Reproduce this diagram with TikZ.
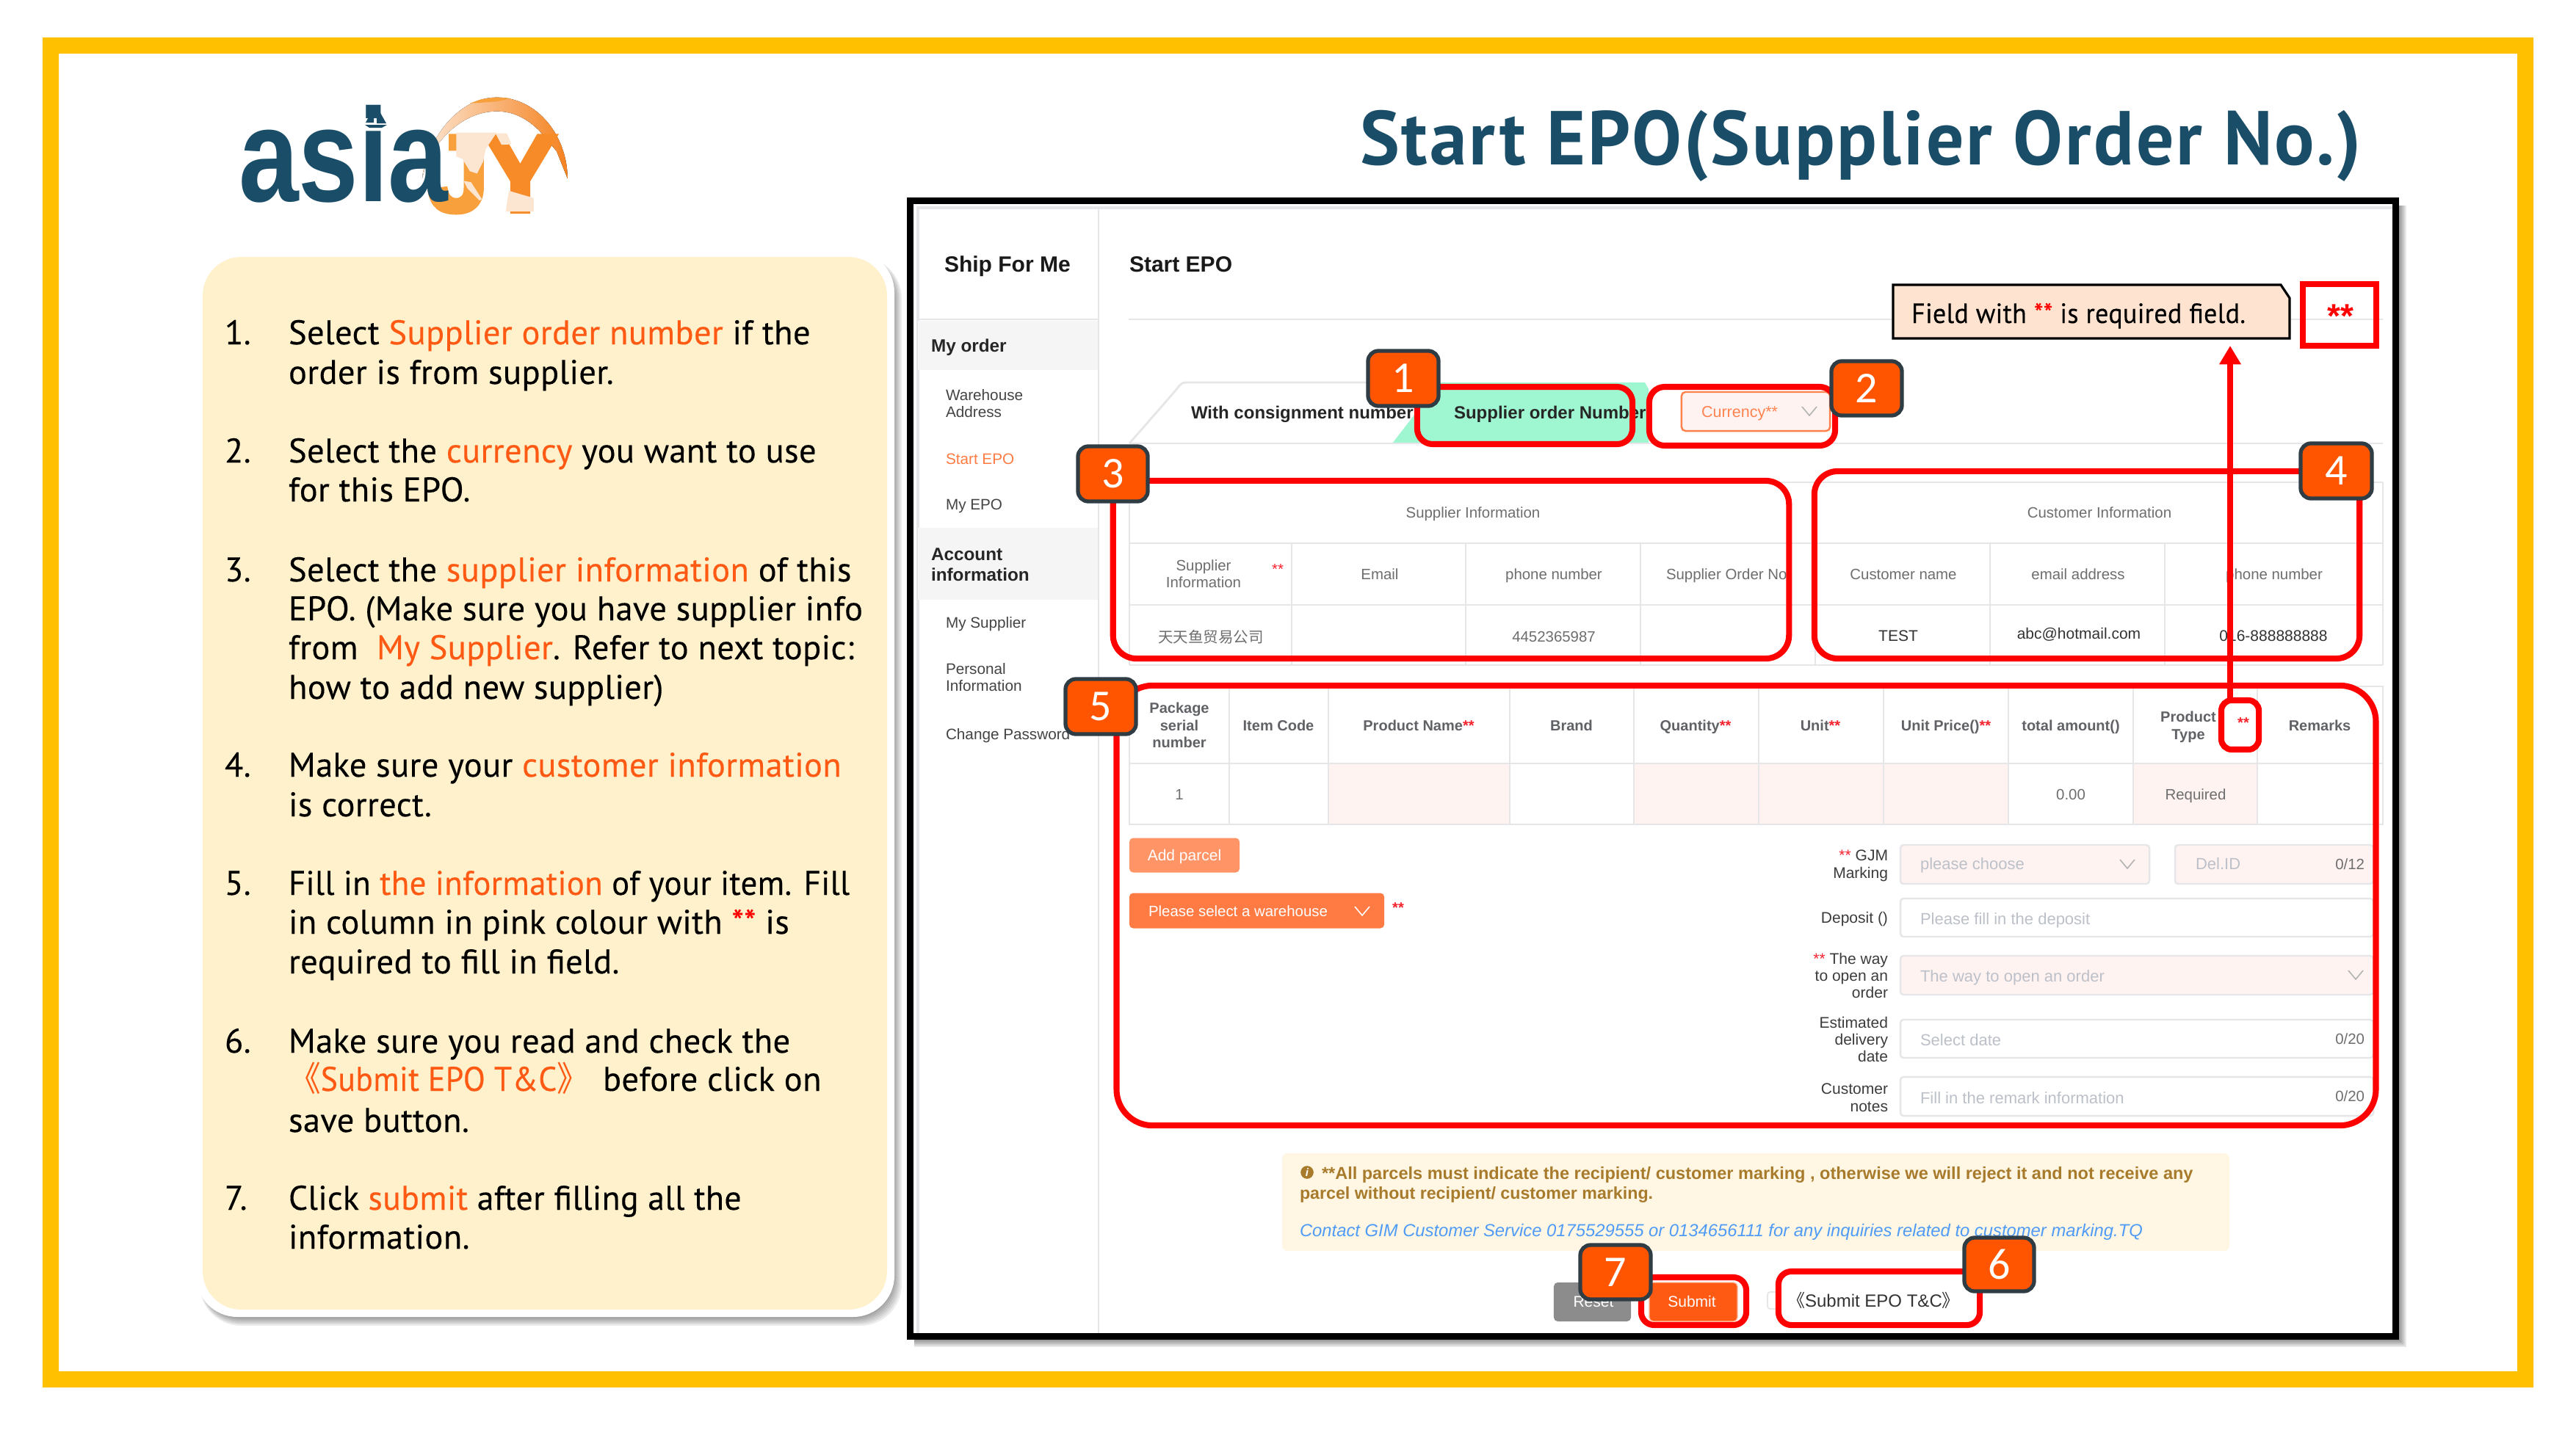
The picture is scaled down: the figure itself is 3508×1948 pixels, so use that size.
\documentclass[tikz,border=0pt]{standalone}
\usepackage{fontspec}
\usetikzlibrary{arrows.meta}
\setmainfont{PT Sans}
\newfontfamily\ui{Liberation Sans}
\newfontfamily\logoj[FakeBold=4]{Liberation Sans}
\newfontfamily\cjk{Noto Sans CJK SC}
\newfontfamily\badgefont{Carlito}
\newfontfamily\bodyfont[LetterSpace=0.8,FakeBold=0.25]{PT Sans}
\newfontfamily\titlefont[LetterSpace=3]{PT Sans}
\definecolor{frameY}{HTML}{FFC000}
\definecolor{navy}{HTML}{1A4E68}
\definecolor{cream}{HTML}{FFF1CC}
\definecolor{om}{HTML}{FF5A14}
\definecolor{req}{HTML}{F5222D}
\definecolor{gridc}{HTML}{E6E6E8}
\definecolor{pinkc}{HTML}{FFF3F2}
\definecolor{badge}{HTML}{FF5500}
\definecolor{badgeb}{HTML}{2F3C44}
\definecolor{redl}{HTML}{FF0000}
\definecolor{cellc}{HTML}{6E6E6E}
\definecolor{headc}{HTML}{606266}
\definecolor{phc}{HTML}{BCC0C8}
\definecolor{labc}{HTML}{3C3C3C}
\definecolor{sidec}{HTML}{444444}
\definecolor{brownc}{HTML}{A87B2C}
\definecolor{bluec}{HTML}{4F9BF5}
\definecolor{mint}{HTML}{9FF7D1}
\definecolor{palec}{HTML}{FCE6D2}
\definecolor{logoo}{HTML}{F8A03C}
\definecolor{logor}{HTML}{F58220}
\newcommand\px[1]{\fontsize{\fpeval{#1*0.28453}pt}{\fpeval{#1*0.34}pt}\selectfont}
\newcommand\om[1]{\textcolor{om}{#1}}
\newcommand\rqd[1]{\textcolor{req}{#1}}
\newcounter{tn}
\newcommand\TL[4]{\stepcounter{tn}\node[txt,anchor=base west,#3] (t\arabic{tn}) at (#1,#2+2) {#4};}
\newcommand\TC[4]{\stepcounter{tn}\node[txt,anchor=base,#3] (t\arabic{tn}) at (#1,#2+2) {#4};}
\newcommand\TR[4]{\stepcounter{tn}\node[txt,anchor=base east,#3] (t\arabic{tn}) at (#1,#2+2) {#4};}
\newcommand\Chev[3]{\draw[#3,line width=.45pt] (#1-10,#2-6) -- (#1,#2+6) -- (#1+10,#2-6);}
\newcommand\RB[6]{\node[redbox,rounded corners=#6,minimum width={(#4-#2)*0.28453pt},minimum height={(#5-#3)*0.28453pt}] (#1) at ({(#2+#4)/2},{(#3+#5)/2}) {};}
\newcommand\BD[6]{\node[badgebox,minimum width={(#4-#2)*0.28453pt},minimum height={(#5-#3)*0.28453pt}] (#1) at ({(#2+#4)/2},{(#3+#5)/2}) {#6};}
\tikzset{
 txt/.style={inner sep=0pt,outer sep=0pt},
 body/.style={font=\bodyfont\px{46.5},text=black},
 side/.style={font=\ui\px{20.7},text=sidec},
 sideb/.style={font=\ui\bfseries\px{24.3},text=black!85},
 head/.style={font=\ui\bfseries\px{20},text=headc},
 cell/.style={font=\ui\px{20.4},text=cellc},
 dark/.style={font=\ui\px{21},text=black!80},
 ph/.style={font=\ui\px{22},text=phc},
 lab/.style={font=\ui\px{21},text=labc},
 tabt/.style={font=\ui\bfseries\px{24},text=black!85},
 grid/.style={draw=gridc,line width=.6pt},
 fld/.style={draw=gridc,line width=.7pt,rounded corners=1.2pt},
 redbox/.style={draw=redl,line width=2.3pt,inner sep=0pt,outer sep=0pt,fill=none},
 badgebox/.style={fill=badge,draw=badgeb,line width=1.5pt,rounded corners=4pt,inner sep=0pt,outer sep=0pt,text=white,font=\badgefont\px{60}},
}
\begin{document}
\begin{tikzpicture}[x=0.01cm,y=-0.01cm]
\useasboundingbox (0,0) rectangle (3508,1948);
\fill[white] (0,0) rectangle (3508,1948);
% yellow frame
\fill[frameY,even odd rule] (58,51) rectangle (3450,1890) (80,73) rectangle (3428,1868);
% logo (coordinates: 3 units per pixel, origin 480,120)
\begin{scope}[shift={(480,120)},x=0.003333cm,y=-0.003333cm]
\fill[left color=palec,middle color=palec!60!logor,right color=logor] (285,370) .. controls (300,230) and (420,38) .. (590,38) .. controls (760,38) and (880,200) .. (880,370) -- (835,258) -- (765,175) .. controls (700,110) and (640,95) .. (590,95) .. controls (450,95) and (320,220) .. (285,370) -- cycle;
\fill[logoo] (480,62) -- (530,45) -- (590,38) -- (650,42) -- (590,55) -- (520,60) -- cycle;
\TL{310}{503}{font=\logoj\bfseries\px{149},text=logoo}{J}
\TL{537}{503}{font=\logoj\bfseries\px{149},text=logor!70!logoo}{Y}
\fill[palec] (425,182) -- (590,182) -- (545,250) -- (535,300) -- (510,350) -- (480,340) -- (450,290) -- (425,280) -- cycle;
\fill[palec] (585,185) -- (632,185) -- (650,230) -- (610,232) -- cycle;
\fill[palec] (640,420) -- (700,438) -- (742,450) -- (742,505) -- (627,505) -- (632,470) -- cycle;
\fill[palec] (455,380) -- (485,385) -- (530,455) -- (520,460) -- (470,410) -- cycle;
\end{scope}
\TL{325}{272}{font=\ui\bfseries\px{181},text=navy,xscale=.81}{asia}
\fill[navy] (509,146) -- (509,167) -- (498,167) -- cycle (513,145) -- (526,168) -- (513,168) -- cycle (497,170) -- (527,170) -- (520,174) -- (503,174) -- cycle;
% title
\TL{1852}{222}{font=\titlefont\bfseries\px{104},text=navy,xscale=.975}{Start EPO(Supplier Order No.)}
% panel
\foreach \s in {0,2,...,12}{\fill[black,opacity=.07,rounded corners=16pt] (272,350) rectangle (1216+\s,1794+\s);}
\fill[white,rounded corners=16pt] (267,342) rectangle (1218,1794);
\fill[cream,rounded corners=15pt] (276,350) rectangle (1208,1784);
% list
\TL{306}{467}{body}{1.}\TL{393}{467}{body}{Select \om{Supplier order number} if the}
\TL{393}{521}{body}{order is from supplier.}
\TL{306}{628}{body}{2.}\TL{393}{628}{body}{Select the \om{currency} you want to use}
\TL{393}{681}{body}{for this EPO.}
\TL{306}{790}{body}{3.}\TL{393}{790}{body}{Select the \om{supplier information} of this}
\TL{393}{843}{body}{EPO. (Make sure you have supplier info}
\TL{393}{896}{body}{from\ \ \om{My Supplier}. Refer to next topic:}
\TL{393}{950}{body}{how to add new supplier)}
\TL{306}{1056}{body}{4.}\TL{393}{1056}{body}{Make sure your \om{customer information}}
\TL{393}{1110}{body}{is correct.}
\TL{306}{1217}{body}{5.}\TL{393}{1217}{body,xscale=.965}{Fill in \om{the information} of your item. Fill}
\TL{393}{1270}{body}{in column in pink colour with \textcolor{red}{**} is}
\TL{393}{1324}{body}{required to fill in field.}
\TL{306}{1432}{body}{6.}\TL{393}{1432}{body}{Make sure you read and check the}
\TL{393}{1484}{body,xscale=.94}{\om{{\cjk 《}Submit EPO T\&C{\cjk 》}}}
\TL{821}{1484}{body}{before click on}
\TL{393}{1540}{body}{save button.}
\TL{306}{1646}{body}{7.}\TL{393}{1646}{body,xscale=.985}{Click \om{submit} after filling all the}
\TL{393}{1699}{body}{information.}
% screenshot frame
\foreach \s in {0,2,...,10}{\fill[black,opacity=.09] (1245,280) rectangle (3267+\s,1825+\s);}
\fill[black] (1235,269) rectangle (3267,1825);
\fill[white] (1244,278) rectangle (3258,1816);
\draw[grid,line width=.9pt] (1250,1816) -- (1250,283) -- (3258,283);
\fill[black!4] (1250,437) rectangle (1496,504);
\fill[black!4] (1250,719) rectangle (1496,817);
\draw[grid] (1496,283) -- (1496,1816);
\draw[grid] (1250,435) -- (1496,435) (1537,435) -- (3245,435);
% sidebar
\TL{1286}{368}{font=\ui\bfseries\px{30},text=black!90}{Ship For Me}
\TL{1538}{368}{font=\ui\bfseries\px{30},text=black!90}{Start EPO}
\TL{1268}{477}{sideb}{My order}
\TL{1288}{543}{side}{Warehouse}
\TL{1288}{566}{side}{Address}
\TL{1288}{630}{side,text=om!80}{Start EPO}
\TL{1288}{692}{side}{My EPO}
\TL{1268}{761}{sideb}{Account}
\TL{1268}{789}{sideb}{information}
\TL{1288}{853}{side}{My Supplier}
\TL{1288}{916}{side}{Personal}
\TL{1288}{939}{side}{Information}
\TL{1288}{1005}{side}{Change Password}
% tabs
\draw[grid,line width=.8pt] (1538,604) -- (1600,533) to[out=50,in=180] (1615,521) -- (1900,521);
\fill[mint] (1896,604) -- (1930,560) -- (1930,521) -- (2240,521) -- (2245,530) -- (2245,604) -- cycle;
\draw[grid,line width=.8pt] (1538,604) -- (3245,604);
\TL{1622}{568}{tabt}{With consignment number}
\TL{1980}{568}{tabt}{Supplier order Number}
\node[draw=orange!60!red!70,fill=pinkc,line width=.7pt,rounded corners=1.5pt,minimum width={202*0.28453pt},minimum height={53*0.28453pt},inner sep=0pt] (cur) at (2391,560.5) {};
\TL{2317}{566}{font=\ui\px{21.5},text=om!75}{Currency**}
\Chev{2464}{560}{draw=black!30}
% note
\path[fill=red!20!orange!18!white,draw=black,line width=.9pt] (2578,388) -- (3106,388) -- (3118,406) -- (3118,461) -- (2578,461) -- cycle;
\TL{2603}{438}{font=\bodyfont\px{38},xscale=.95}{Field with \textcolor{red}{**} is required field.}
\TC{3187}{444}{font=\ui\bfseries\px{46},text=redl}{**}
% supplier + customer tables
\draw[grid] (1538,657) -- (3245,657) (1538,740) -- (3245,740) (1538,824) -- (3245,824) (1538,906) -- (3245,906);
\draw[grid] (1538,657) -- (1538,906) (1759,740) -- (1759,906) (1996,740) -- (1996,906) (2234,740) -- (2234,906) (2472,657) -- (2472,906) (2710,740) -- (2710,906) (2948,740) -- (2948,906) (3245,657) -- (3245,906);
\TC{2006}{703}{cell}{Supplier Information}
\TC{1639}{775}{cell}{Supplier}
\TC{1639}{798}{cell}{Information}
\TC{1740}{780}{cell,text=req}{**}
\TC{1879}{787}{cell}{Email}
\TC{2116}{787}{cell}{phone number}
\TL{2269}{787}{cell}{Supplier Order No}
\TL{1577}{873}{font=\cjk\px{20.5},text=cellc}{天天鱼贸易公司}
\TC{2116}{872}{cell}{4452365987}
\TC{2859}{703}{cell}{Customer Information}
\TC{2592}{787}{cell}{Customer name}
\TC{2830}{787}{cell}{email address}
\TC{3097}{787}{cell}{phone number}
\TC{2585}{871}{dark}{TEST}
\TC{2831}{868}{dark}{abc@hotmail.com}
\TC{3096}{871}{dark}{016-888888888}
% item table
\fill[pinkc] (1809,1040) rectangle (2056,1123) (2225,1040) rectangle (2735,1123) (2905,1040) rectangle (3074,1123);
\draw[grid] (1538,935) rectangle (3245,1123) (1538,1040) -- (3245,1040);
\foreach \c in {1674,1809,2056,2225,2395,2565,2735,2905,3074}{\draw[grid] (\c,935) -- (\c,1123);}
\TC{1606}{969}{head}{Package}
\TC{1606}{993}{head}{serial}
\TC{1606}{1016}{head}{number}
\TC{1741}{993}{head}{Item Code}
\TC{1932}{993}{head}{Product Name\rqd{**}}
\TC{2140}{993}{head}{Brand}
\TC{2309}{993}{head}{Quantity\rqd{**}}
\TC{2479}{993}{head}{Unit\rqd{**}}
\TC{2650}{993}{head}{Unit Price()\rqd{**}}
\TC{2820}{993}{head}{total amount()}
\TC{2980}{981}{head}{Product}
\TC{2980}{1005}{head}{Type}
\TC{3055}{989}{head,text=req}{**}
\TC{3159}{993}{head}{Remarks}
\TC{1606}{1087}{cell}{1}
\TC{2820}{1087}{cell}{0.00}
\TC{2990}{1087}{cell}{Required}
% buttons
\node[fill=om!65,rounded corners=1.5pt,minimum width={150*0.28453pt},minimum height={47*0.28453pt},inner sep=0pt] (addp) at (1613,1165) {};
\TC{1613}{1170}{font=\ui\px{21},text=white}{Add parcel}
\node[fill=om!80,rounded corners=1.5pt,minimum width={347*0.28453pt},minimum height={48*0.28453pt},inner sep=0pt] (wh) at (1711.5,1240.5) {};
\TL{1564}{1246}{font=\ui\px{20.4},text=white}{Please select a warehouse}
\Chev{1855}{1241}{draw=white}
\TC{1904}{1241}{head,text=req}{**}
% form
\draw[fld,fill=pinkc] (2588,1151) rectangle (2927,1204);
\draw[fld,fill=pinkc] (2962,1151) rectangle (3232,1204);
\draw[fld] (2588,1224) rectangle (3232,1276);
\draw[fld,fill=pinkc] (2588,1302) rectangle (3232,1355);
\draw[fld] (2588,1389) rectangle (3232,1441);
\draw[fld] (2588,1467) rectangle (3232,1520);
\TL{2615}{1182}{ph}{please choose}
\Chev{2897}{1177}{draw=black!30}
\TL{2990}{1182}{ph}{Del.ID}
\TR{3220}{1182}{cell}{0/12}
\TL{2615}{1257}{ph}{Please fill in the deposit}
\TL{2615}{1335}{ph}{The way to open an order}
\Chev{3208}{1328}{draw=black!30}
\TL{2615}{1422}{ph}{Select date}
\TR{3220}{1420}{cell}{0/20}
\TL{2615}{1501}{ph}{Fill in the remark information}
\TR{3220}{1498}{cell}{0/20}
\TR{2571}{1170}{lab}{\rqd{**} GJM}
\TR{2571}{1194}{lab}{Marking}
\TR{2571}{1255}{lab}{Deposit ()}
\TR{2571}{1311}{lab}{\rqd{**} The way}
\TR{2571}{1334}{lab}{to open an}
\TR{2571}{1357}{lab}{order}
\TR{2571}{1398}{lab}{Estimated}
\TR{2571}{1421}{lab}{delivery}
\TR{2571}{1444}{lab}{date}
\TR{2571}{1488}{lab}{Customer}
\TR{2571}{1512}{lab}{notes}
% alert
\fill[yellow!50!orange!10!white,rounded corners=2pt] (1746,1571) rectangle (3036,1704);
\node[circle,fill=brownc,minimum size=5pt,inner sep=0pt,font=\ui\bfseries\itshape\px{15},text=white] (info) at (1780,1597) {i};
\TL{1800}{1604}{font=\ui\bfseries\px{23.5},text=brownc}{**All parcels must indicate the recipient/ customer marking , otherwise we will reject it and not receive any}
\TL{1770}{1631}{font=\ui\bfseries\px{23.2},text=brownc}{parcel without recipient/ customer marking.}
\TL{1770}{1682}{font=\ui\itshape\px{23.8},text=bluec}{Contact GIM Customer Service 0175529555 or 0134656111 for any inquiries related to customer marking.TQ}
% bottom buttons
\node[fill=black!45,rounded corners=1.5pt,minimum width={105*0.28453pt},minimum height={53*0.28453pt},inner sep=0pt] (rst) at (2168.5,1773.5) {};
\TC{2170}{1778}{font=\ui\px{21},text=white}{Reset}
\node[fill=om,draw=om!40,line width=.4pt,rounded corners=1.5pt,minimum width={120*0.28453pt},minimum height={53*0.28453pt},inner sep=0pt] (sbm) at (2306,1773.5) {};
\TC{2304}{1778}{font=\ui\px{21},text=white}{Submit}
\draw[draw=gridc,line width=.5pt,rounded corners=1pt] (2407,1760) rectangle (2425,1783);
\TL{2434}{1778}{font=\ui\px{24},text=black!80}{{\cjk 《}Submit EPO T\&C{\cjk 》}}
% red highlights
\RB{r1}{1930}{527}{2223}{605}{6pt}
\RB{r2}{2246}{527}{2499}{607}{6pt}
\RB{r3}{1516}{655}{2436}{897}{9pt}
\RB{r4}{2471}{642}{3213}{897}{9pt}
\RB{r5}{1521}{934}{3235}{1533}{14pt}
\RB{r6}{2422}{1732}{2696}{1805}{5pt}
\RB{r7}{2235}{1740}{2378}{1805}{5pt}
\RB{rq}{3025}{954}{3076}{1021}{4pt}
\node[redbox,minimum width={100*0.28453pt},minimum height={84*0.28453pt},draw=redl] (rs) at (3186,429) {};
\coordinate (tip) at (3037,471);
\draw[draw=redl,line width=2.2pt,-{Triangle[length=7.2pt,width=8pt]}] (rq.north -| tip) -- (tip);
% badges
\BD{b1}{1863}{478}{1959}{553}{1}
\BD{b2}{2494}{492}{2590}{566}{2}
\BD{b3}{1468}{608}{1563}{683}{3}
\BD{b4}{3133}{604}{3230}{679}{4}
\BD{b5}{1451}{925}{1547}{1000}{5}
\BD{b6}{2675}{1686}{2770}{1759}{6}
\BD{b7}{2152}{1696}{2248}{1770}{7}
\end{tikzpicture}
\end{document}
